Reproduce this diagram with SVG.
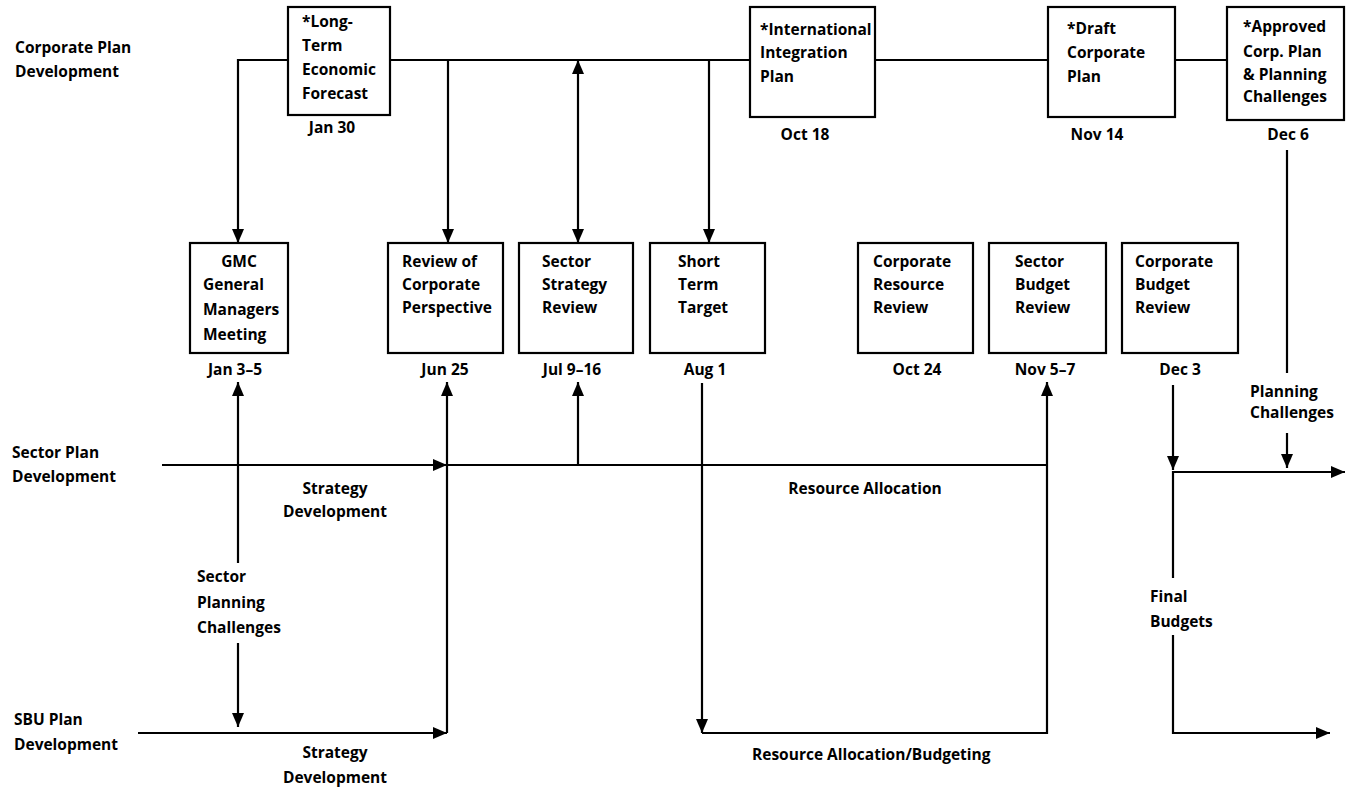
<svg xmlns="http://www.w3.org/2000/svg" width="1347" height="790" viewBox="0 0 1347 790">
<style>
text{font-family:"Open Sans","Liberation Sans",sans-serif;font-weight:700;font-size:15.5px;fill:#000}
.c{text-anchor:middle}
.box{fill:#fff;stroke:#000;stroke-width:2.2}
.ln{fill:none;stroke:#000;stroke-width:2.2}
</style>
<defs>
<marker id="ah" viewBox="0 0 14 12" refX="14" refY="6" markerWidth="14" markerHeight="12" markerUnits="userSpaceOnUse" orient="auto-start-reverse">
<path d="M0,0 L14,6 L0,12 z" fill="#000"/>
</marker>
</defs>
<rect width="1347" height="790" fill="#fff"/>
<g id="connectors">
<path class="ln" d="M288,60 H238 V243" marker-end="url(#ah)"/>
<path class="ln" d="M390,60 H750"/>
<path class="ln" d="M448,60 V243" marker-end="url(#ah)"/>
<path class="ln" d="M578,60 V243" marker-start="url(#ah)" marker-end="url(#ah)"/>
<path class="ln" d="M709,60 V243" marker-end="url(#ah)"/>
<path class="ln" d="M875,60 H1048"/>
<path class="ln" d="M1175,60 H1227"/>
<path class="ln" d="M1287,150 V373"/>
<path class="ln" d="M1287,433 V468" marker-end="url(#ah)"/>
<path class="ln" d="M162,465 H447" marker-end="url(#ah)"/>
<path class="ln" d="M447,465 H1047"/>
<path class="ln" d="M578,465 V382" marker-end="url(#ah)"/>
<path class="ln" d="M447,733 V382" marker-end="url(#ah)"/>
<path class="ln" d="M138,733 H447" marker-end="url(#ah)"/>
<path class="ln" d="M238,563 V382" marker-end="url(#ah)"/>
<path class="ln" d="M238,643 V727" marker-end="url(#ah)"/>
<path class="ln" d="M702,383 V733" marker-end="url(#ah)"/>
<path class="ln" d="M702,733 H1047 V382" marker-end="url(#ah)"/>
<path class="ln" d="M1173,385 V470" marker-end="url(#ah)"/>
<path class="ln" d="M1173,578 V472 H1345" marker-end="url(#ah)"/>
<path class="ln" d="M1173,635 V733 H1330" marker-end="url(#ah)"/>
</g>
<g id="labels">
<text x="15" y="53">Corporate Plan</text>
<text x="15" y="77">Development</text>
<text x="12" y="458">Sector Plan</text>
<text x="12" y="482">Development</text>
<text x="14" y="725">SBU Plan</text>
<text x="14" y="750">Development</text>
<text class="c" x="335" y="494">Strategy</text>
<text class="c" x="335" y="517">Development</text>
<text class="c" x="335" y="758">Strategy</text>
<text class="c" x="335" y="783">Development</text>
<text class="c" x="865" y="494">Resource Allocation</text>
<text x="752" y="760">Resource Allocation/Budgeting</text>
<text x="197" y="582">Sector</text>
<text x="197" y="608">Planning</text>
<text x="197" y="633">Challenges</text>
<text x="1150" y="602">Final</text>
<text x="1150" y="627">Budgets</text>
<text x="1250" y="397">Planning</text>
<text x="1250" y="418">Challenges</text>
</g>
<g id="n_ltef">
<rect class="box" x="288" y="7" width="102" height="108"/>
<text x="302" y="27">*Long-</text>
<text x="302" y="51">Term</text>
<text x="302" y="75">Economic</text>
<text x="302" y="99">Forecast</text>
<text class="c" x="332" y="133">Jan 30</text>
</g>
<g id="n_iip">
<rect class="box" x="750" y="7" width="125" height="110"/>
<text x="760" y="35">*International</text>
<text x="760" y="58">Integration</text>
<text x="760" y="82">Plan</text>
<text class="c" x="805" y="140">Oct 18</text>
</g>
<g id="n_dcp">
<rect class="box" x="1048" y="7" width="127" height="110"/>
<text x="1067" y="34">*Draft</text>
<text x="1067" y="58">Corporate</text>
<text x="1067" y="82">Plan</text>
<text class="c" x="1097" y="140">Nov 14</text>
</g>
<g id="n_acp">
<rect class="box" x="1227" y="7" width="117" height="113"/>
<text x="1243" y="32">*Approved</text>
<text x="1243" y="57">Corp. Plan</text>
<text x="1243" y="80">&amp; Planning</text>
<text x="1243" y="102">Challenges</text>
<text class="c" x="1288" y="140">Dec 6</text>
</g>
<g id="n_gmc">
<rect class="box" x="190" y="243" width="98" height="110"/>
<text class="c" x="239" y="267">GMC</text>
<text x="203" y="290">General</text>
<text x="203" y="315">Managers</text>
<text x="203" y="340">Meeting</text>
<text class="c" x="235" y="375">Jan 3–5</text>
</g>
<g id="n_rcp">
<rect class="box" x="388" y="243" width="115" height="110"/>
<text x="402" y="267">Review of</text>
<text x="402" y="290">Corporate</text>
<text x="402" y="313">Perspective</text>
<text class="c" x="445" y="375">Jun 25</text>
</g>
<g id="n_ssr">
<rect class="box" x="519" y="243" width="114" height="110"/>
<text x="542" y="267">Sector</text>
<text x="542" y="290">Strategy</text>
<text x="542" y="313">Review</text>
<text class="c" x="572" y="375">Jul 9–16</text>
</g>
<g id="n_stt">
<rect class="box" x="650" y="243" width="115" height="110"/>
<text x="678" y="267">Short</text>
<text x="678" y="290">Term</text>
<text x="678" y="313">Target</text>
<text class="c" x="705" y="375">Aug 1</text>
</g>
<g id="n_crr">
<rect class="box" x="858" y="243" width="115" height="110"/>
<text x="873" y="267">Corporate</text>
<text x="873" y="290">Resource</text>
<text x="873" y="313">Review</text>
<text class="c" x="917" y="375">Oct 24</text>
</g>
<g id="n_sbr">
<rect class="box" x="989" y="243" width="117" height="110"/>
<text x="1015" y="267">Sector</text>
<text x="1015" y="290">Budget</text>
<text x="1015" y="313">Review</text>
<text class="c" x="1045" y="375">Nov 5–7</text>
</g>
<g id="n_cbr">
<rect class="box" x="1122" y="243" width="116" height="110"/>
<text x="1135" y="267">Corporate</text>
<text x="1135" y="290">Budget</text>
<text x="1135" y="313">Review</text>
<text class="c" x="1180" y="375">Dec 3</text>
</g>
</svg>
